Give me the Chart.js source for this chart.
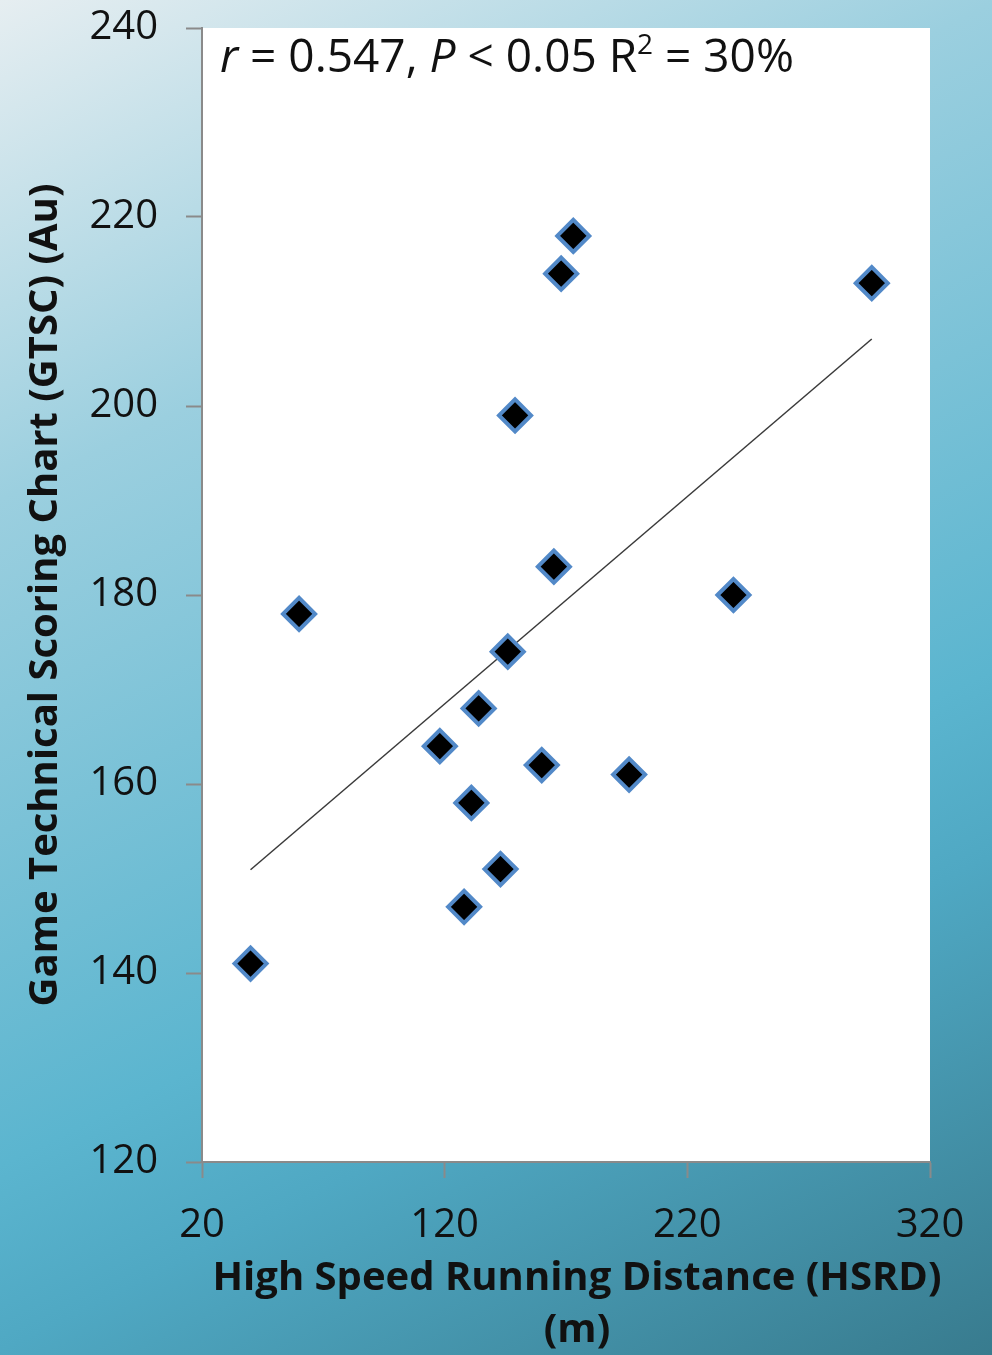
<!DOCTYPE html>
<html>
<head>
<meta charset="utf-8">
<script src="https://cdn.jsdelivr.net/npm/chart.js@4"></script>
<style>
  html, body { margin: 0; padding: 0; background: #ffffff; }
  #wrap { width: 992px; height: 1355px; }
  canvas { display: block; }
</style>
</head>
<body>
<div id="wrap"><canvas id="c" width="992" height="1355"></canvas></div>
<script>
// High speed running distance (m) per player
const hsrd = [40, 60, 118, 128, 131, 134, 143, 146, 149, 160, 165, 168, 173, 196, 239, 296];
// Game technical scoring chart score (Au) per player
const gtsc = [141, 178, 164, 147, 158, 168, 151, 174, 199, 162, 183, 214, 218, 161, 180, 213];

const xTicks = [20, 120, 220, 320];
const yTicks = [120, 140, 160, 180, 200, 220, 240];

const xTitle = ['High Speed Running Distance (HSRD)', '(m)'];
const yTitle = 'Game Technical Scoring Chart (GTSC) (Au)';
// correlation note, pieces flagged italic / superscript
const statsParts = [
  { t: 'r', italic: true },
  { t: ' = 0.547, ' },
  { t: 'P', italic: true },
  { t: ' < 0.05 R' },
  { t: '2', sup: true },
  { t: ' = 30%' }
];

// least-squares line through the points
function linearFit(xs, ys) {
  const n = xs.length;
  const mx = xs.reduce((a, b) => a + b, 0) / n;
  const my = ys.reduce((a, b) => a + b, 0) / n;
  let sxy = 0, sxx = 0;
  for (let i = 0; i < n; i++) {
    sxy += (xs[i] - mx) * (ys[i] - my);
    sxx += (xs[i] - mx) * (xs[i] - mx);
  }
  const slope = sxy / sxx;
  return { slope, intercept: my - slope * mx };
}
const fit = linearFit(hsrd, gtsc);
const xLo = Math.min(...hsrd), xHi = Math.max(...hsrd);
const trend = [
  { x: xLo, y: fit.intercept + fit.slope * xLo },
  { x: xHi, y: fit.intercept + fit.slope * xHi }
];
const points = hsrd.map((x, i) => ({ x, y: gtsc[i] }));

const FONT = '"Open Sans", "DejaVu Sans", sans-serif';
const AXIS_GREY = '#8a8a8a';

const backdrop = {
  id: 'backdrop',
  beforeDraw(chart) {
    const { ctx, width, height, chartArea: a } = chart;
    ctx.save();
    const g = ctx.createLinearGradient(0, 0, 740, 1481);
    g.addColorStop(0.00, '#e6eef1');
    g.addColorStop(0.27, '#9bcfdf');
    g.addColorStop(0.63, '#5bb5cf');
    g.addColorStop(0.73, '#4fa8c3');
    g.addColorStop(1.00, '#387b8e');
    ctx.fillStyle = g;
    ctx.fillRect(0, 0, width, height);
    ctx.fillStyle = '#ffffff';
    ctx.fillRect(a.left, a.top, a.right - a.left, a.bottom - a.top);
    ctx.restore();
  }
};

const labels = {
  id: 'labels',
  afterDraw(chart) {
    const { ctx, chartArea: a } = chart;
    ctx.save();
    ctx.fillStyle = '#111111';

    // x axis title, two lines
    ctx.font = 'bold 40px ' + FONT;
    ctx.textAlign = 'center';
    ctx.textBaseline = 'alphabetic';
    const cx = (a.left + a.right) / 2 + 11;
    ctx.fillText(xTitle[0], cx, 1290);
    ctx.fillText(xTitle[1], cx, 1342);

    // y axis title, rotated
    ctx.save();
    ctx.translate(57, (a.top + a.bottom) / 2);
    ctx.rotate(-Math.PI / 2);
    ctx.fillText(yTitle, 0, 0);
    ctx.restore();

    // correlation note in the top-left of the plot
    let x = a.left + 18;
    const base = a.top + 44;
    ctx.textAlign = 'left';
    for (const p of statsParts) {
      if (p.sup) {
        ctx.font = '28px ' + FONT;
        ctx.fillText(p.t, x, base - 18);
      } else {
        ctx.font = (p.italic ? 'italic ' : '') + '46px ' + FONT;
        ctx.fillText(p.t, x, base);
      }
      x += ctx.measureText(p.t).width;
    }
    ctx.restore();
  }
};

const axisCommon = {
  grid: { drawOnChartArea: false, drawTicks: true, tickLength: 16, tickWidth: 2, color: AXIS_GREY },
  border: { display: true, color: AXIS_GREY, width: 2 },
  title: { display: false }
};

new Chart(document.getElementById('c'), {
  data: {
    datasets: [
      {
        type: 'scatter',
        label: 'Players',
        data: points,
        pointStyle: 'rectRot',
        pointRadius: 16,
        pointHoverRadius: 16,
        pointBackgroundColor: '#000000',
        pointBorderColor: '#5289c8',
        pointBorderWidth: 4,
        order: 1
      },
      {
        type: 'line',
        label: 'Linear fit',
        data: trend,
        borderColor: '#3a3a3a',
        borderWidth: 1.5,
        pointRadius: 0,
        fill: false,
        order: 2
      }
    ]
  },
  options: {
    responsive: false,
    animation: false,
    devicePixelRatio: 1,
    layout: { padding: { left: 0, right: 62, top: 28, bottom: 0 } },
    plugins: { legend: { display: false }, tooltip: { enabled: false } },
    scales: {
      x: {
        ...axisCommon,
        type: 'linear',
        min: xTicks[0],
        max: xTicks[xTicks.length - 1],
        afterBuildTicks(s) { s.ticks = xTicks.map(v => ({ value: v })); },
        afterFit(s) { s.height = 193; s.paddingLeft = 0; s.paddingRight = 0; },
        ticks: { color: '#111111', padding: 24, maxRotation: 0, font: { family: FONT, size: 40 } }
      },
      y: {
        ...axisCommon,
        type: 'linear',
        min: yTicks[0],
        max: yTicks[yTicks.length - 1],
        afterBuildTicks(s) { s.ticks = yTicks.map(v => ({ value: v })); },
        afterFit(s) { s.width = 202; s.paddingTop = 0; s.paddingBottom = 0; },
        ticks: { color: '#111111', padding: 28, font: { family: FONT, size: 40 } }
      }
    }
  },
  plugins: [backdrop, labels]
});
</script>
</body>
</html>
